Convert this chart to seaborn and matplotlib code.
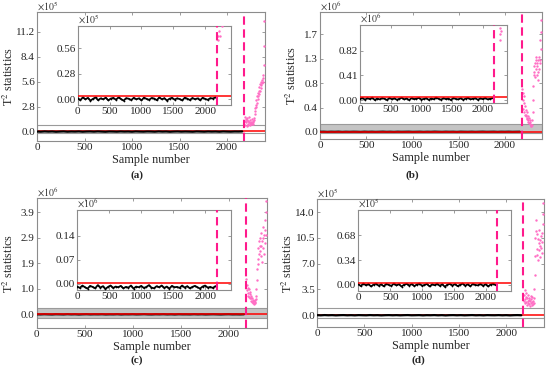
import matplotlib
matplotlib.use("Agg")
import matplotlib.pyplot as plt
import seaborn as sns
from matplotlib.patches import Rectangle

# ---- data ----
fault_at = 2180
black_x = list(range(0, 2161, 40))
pink_x = list(range(2186, 2398, 4))

# black: normal samples, in inset units
black_a = [0.01, -0.01, 0.02, 0.0, 0.015, -0.015, 0.005, 0.02, -0.01, 0.01,
           0.0, 0.018, -0.012, 0.008, 0.015, -0.005, 0.02, 0.002, -0.015, 0.012,
           0.006, -0.008, 0.016, 0.0, 0.01, -0.012, 0.018, 0.004, -0.006, 0.014,
           0.008, -0.01, 0.02, 0.0, 0.012, -0.014, 0.006, 0.016, -0.004, 0.01,
           0.002, -0.012, 0.018, 0.006, -0.008, 0.014, 0.0, 0.01, -0.01, 0.016,
           0.004, -0.006, 0.012, 0.008, 0.02]
black_b = [0.02, 0.035, 0.005, 0.03, 0.015, 0.04, 0.0, 0.025, 0.01, 0.03,
           0.02, 0.0, 0.035, 0.012, 0.028, 0.005, 0.02, 0.038, 0.01, 0.025,
           0.0, 0.03, 0.015, 0.022, 0.035, 0.008, 0.018, 0.03, 0.002, 0.025,
           0.012, 0.04, 0.02, 0.006, 0.03, 0.015, 0.025, 0.0, 0.032, 0.018,
           0.01, 0.028, 0.005, 0.022, 0.036, 0.012, 0.02, 0.03, 0.004, 0.026,
           0.015, 0.034, 0.01, 0.02, 0.03]
black_c = [-0.008, -0.012, -0.005, -0.01, -0.014, -0.006, -0.009, -0.013, -0.004, -0.011,
           -0.007, -0.015, -0.009, -0.005, -0.012, -0.008, -0.01, -0.006, -0.013, -0.009,
           -0.011, -0.005, -0.014, -0.008, -0.01, -0.006, -0.012, -0.009, -0.004, -0.011,
           -0.013, -0.007, -0.01, -0.005, -0.012, -0.008, -0.014, -0.006, -0.01, -0.009,
           -0.012, -0.005, -0.011, -0.007, -0.013, -0.009, -0.006, -0.01, -0.014, -0.008,
           -0.005, -0.011, -0.009, -0.012, -0.007]
black_d = [0.01, -0.015, 0.02, -0.005, 0.012, -0.02, 0.005, 0.018, -0.01, 0.008,
           -0.018, 0.015, 0.0, -0.012, 0.02, -0.006, 0.01, -0.022, 0.004, 0.016,
           -0.008, 0.012, -0.015, 0.006, 0.02, -0.01, 0.0, 0.014, -0.02, 0.008,
           -0.004, 0.018, -0.012, 0.01, -0.025, 0.005, 0.015, -0.008, 0.012, -0.016,
           0.002, 0.02, -0.01, 0.008, -0.018, 0.014, 0.0, -0.006, 0.016, -0.012,
           0.01, -0.02, 0.006, 0.018, -0.004]

# pink: faulty samples, in main-axis units
pink_a = [1.6, 1.2, 0.7, 1.4, 1.1, 0.65, 1.3, 1.5, 0.75, 0.9, 1.2, 1.6, 1.1, 0.7,
          1.0, 1.3, 0.9, 1.1, 1.4, 0.8, 1.0, 1.2, 0.9, 1.1, 1.3, 1.5,
          2.0, 2.6, 2.3, 3.0, 2.8, 3.5, 3.2, 4.0, 3.7, 4.3, 4.0, 4.6, 4.2, 5.0,
          4.6, 5.3, 4.9, 5.6, 5.2, 5.8, 5.4, 6.0, 5.6, 6.3, 7.5, 9.6, 12.4]
pink_b = [0.75, 0.55, 0.68, 0.40, 0.62, 0.35, 0.50, 0.30, 0.45, 0.28, 0.38,
          0.30, 0.22, 0.35, 0.25, 0.20, 0.28, 0.18, 0.24, 0.16, 0.20, 0.14, 0.17,
          0.11, 0.10, 0.12, 0.115, 0.20,
          0.35, 0.55, 0.80, 1.0, 1.15, 1.05,
          1.2, 0.95, 1.25, 1.1, 1.3, 1.0, 1.2, 1.15, 0.9, 1.25, 1.05, 1.3, 1.1,
          1.2, 1.6, 1.25, 1.45, 1.75, 1.95]
pink_c = [1.35, 0.9, 1.1, 0.7, 1.0, 0.8, 0.65, 0.95, 0.75, 0.6,
          0.85, 0.6, 0.7, 0.5, 0.62, 0.45, 0.55, 0.42, 0.5, 0.4, 0.48, 0.44, 0.52, 0.47, 0.58,
          0.7, 0.95, 1.3, 1.7, 2.1, 1.9, 2.5, 2.3, 2.8, 2.6,
          2.4, 2.9, 2.2, 3.1, 2.6, 2.0, 2.8, 3.3, 2.5, 2.9, 2.3, 3.0, 2.7, 3.2,
          3.6, 3.0, 3.9, 4.3]
pink_d = [2.8, 1.9, 3.4, 2.2, 1.6, 2.5, 3.0, 1.8, 2.3, 1.4, 2.7, 2.0, 1.7, 2.4,
          1.5, 2.1, 1.3, 1.9, 2.6, 1.6, 2.2, 1.4, 1.8, 2.5, 1.5, 2.0, 1.7, 2.3, 3.5,
          5.5, 8.0, 10.5, 13.0, 11.5,
          9.0, 11.0, 8.2, 10.4, 7.5, 9.8, 11.6, 8.8, 10.2, 9.4, 7.9, 10.8, 9.1,
          11.2, 8.5, 10.0, 12.4, 13.8, 15.2]

# control limits (inset units)
limit = {"a": 0.036, "b": 0.056, "c": 0.001, "d": 0.031}

panels = {
    "a": dict(black=black_a, pink=pink_a, exp=5, iexp=5, ilab=5,
              yt=[0, 2.8, 5.6, 8.4, 11.2], ytl=["0.0", "2.8", "5.6", "8.4", "11.2"],
              ylim=(-1.05, 13.4), iyt=[0, 0.28, 0.56], iytl=["0.00", "0.28", "0.56"],
              iylim=(-0.063, 0.805), band=(-0.18, 0.75), fill=False, red_top=False,
              main=(37, 12, 265, 141), inset=(77.7, 26, 230.7, 105),
              ylab_x=16, letter=(137, 175)),
    "b": dict(black=black_b, pink=pink_b, exp=6, iexp=5, ilab=6,
              yt=[0, 0.425, 0.85, 1.275, 1.7], ytl=["0.0", "0.4", "0.8", "1.3", "1.7"],
              ylim=(-0.115, 2.09), iyt=[0, 0.41, 0.82], iytl=["0.00", "0.41", "0.82"],
              iylim=(-0.055, 1.25), band=(-0.017, 0.135), fill=True, red_top=True,
              main=(320, 12, 542, 138.5), inset=(360, 25, 507.3, 103.3),
              ylab_x=299, letter=(412, 175)),
    "c": dict(black=black_c, pink=pink_c, exp=6, iexp=6, ilab=6,
              yt=[0, 0.97, 1.94, 2.91, 3.88], ytl=["0.0", "1.0", "1.9", "2.9", "3.9"],
              ylim=(-0.53, 4.42), iyt=[0, 0.07, 0.14], iytl=["0.00", "0.07", "0.14"],
              iylim=(-0.018, 0.215), band=(-0.15, 0.23), fill=True, red_top=True,
              main=(36.7, 198, 267, 328), inset=(77.3, 210, 230.7, 290),
              ylab_x=16, letter=(137, 360)),
    "d": dict(black=black_d, pink=pink_d, exp=5, iexp=5, ilab=5,
              yt=[0, 3.5, 7.0, 10.5, 14.0], ytl=["0.0", "3.5", "7.0", "10.5", "14.0"],
              ylim=(-1.6, 15.8), iyt=[0, 0.34, 0.68], iytl=["0.00", "0.34", "0.68"],
              iylim=(-0.083, 1.03), band=(-0.31, 0.99), fill=False, red_top=False,
              main=(317, 199, 544, 327), inset=(358.3, 210, 511, 291),
              ylab_x=295, letter=(418, 360)),
}

sns.set_style("ticks")
plt.rcParams["font.family"] = ["Liberation Serif", "DejaVu Serif"]
plt.rcParams["mathtext.fontset"] = "stix"

W, H = 550, 371
fig = plt.figure(figsize=(5.5, 3.71), dpi=100)

PINK = "#ff6ec4"
DASH = "#ff1a8c"
GRID = "#8c8c8c"


def rect(box):
    l, t, r, b = box
    return [l / W, 1 - b / H, (r - l) / W, (b - t) / H]


def style(ax):
    for s in ax.spines.values():
        s.set_color(GRID)
        s.set_linewidth(0.8)
    ax.tick_params(direction="in", length=2.5, width=0.6, color=GRID,
                   top=True, right=True, labelsize=8, pad=1.5)
    ax.set_xlim(0, 2400)
    ax.set_xticks([0, 500, 1000, 1500, 2000])


for key, p in panels.items():
    f = 10.0 ** (p["iexp"] - p["exp"])  # inset unit -> main unit
    bl_main = [v * f for v in p["black"]]
    l, t, r, b = p["main"]

    ax = fig.add_axes(rect(p["main"]))
    style(ax)
    ax.add_patch(Rectangle((0, p["band"][0]), 2400, p["band"][1] - p["band"][0],
                           facecolor="#c4c4c4" if p["fill"] else "white",
                           edgecolor="#9a9a9a", lw=0.8, zorder=1))
    zr = 4 if p["red_top"] else 2
    ax.axhline(limit[key] * f, color="red", lw=1.1, zorder=zr)
    sns.lineplot(x=black_x, y=bl_main, color="black", lw=1.6, ax=ax, zorder=3)
    sns.scatterplot(x=pink_x, y=p["pink"], color=PINK, s=3, linewidth=0,
                    ax=ax, zorder=5)
    ax.axvline(fault_at, color=DASH, lw=1.5, dashes=(4, 2.2), zorder=6)
    ax.set_ylim(*p["ylim"])
    ax.set_yticks(p["yt"])
    ax.set_yticklabels(p["ytl"])
    ax.set_xlabel("Sample number", fontsize=8.8)
    ax.xaxis.set_label_coords(0.5, -19.0 / (b - t))
    ax.xaxis.label.set_va("center")
    ax.set_ylabel(r"T$^2$ statistics", fontsize=8.8)
    ax.yaxis.set_label_coords((p["ylab_x"] - l) / (r - l), 0.5)
    ax.text(0, 0.995, r"$\times10^{%d}$" % p["exp"], transform=ax.transAxes,
            ha="left", va="bottom", fontsize=7, color="#333333")

    ins = fig.add_axes(rect(p["inset"]))
    ins.set_facecolor("white")
    style(ins)
    ins.axhline(limit[key], color="red", lw=1.1, zorder=4)
    sns.lineplot(x=black_x, y=p["black"], color="black", lw=1.3, marker=".",
                 markersize=2.5, markeredgewidth=0, ax=ins, zorder=3)
    sns.scatterplot(x=pink_x, y=[v / f for v in p["pink"]], color=PINK, s=3,
                    linewidth=0, ax=ins, zorder=5)
    ins.axvline(fault_at, color=DASH, lw=1.5, dashes=(4, 2.2), zorder=6)
    ins.set_ylim(*p["iylim"])
    ins.set_yticks(p["iyt"])
    ins.set_yticklabels(p["iytl"])
    ins.set_xlabel("")
    ins.set_ylabel("")
    ins.text(0, 0.995, r"$\times10^{%d}$" % p["ilab"], transform=ins.transAxes,
             ha="left", va="bottom", fontsize=7, color="#333333")

    lx, ly = p["letter"]
    fig.text(lx / W, 1 - ly / H, "(%s)" % key, ha="center", va="center",
             fontsize=8, fontweight="bold")

fig.savefig("out.png", dpi=100)
